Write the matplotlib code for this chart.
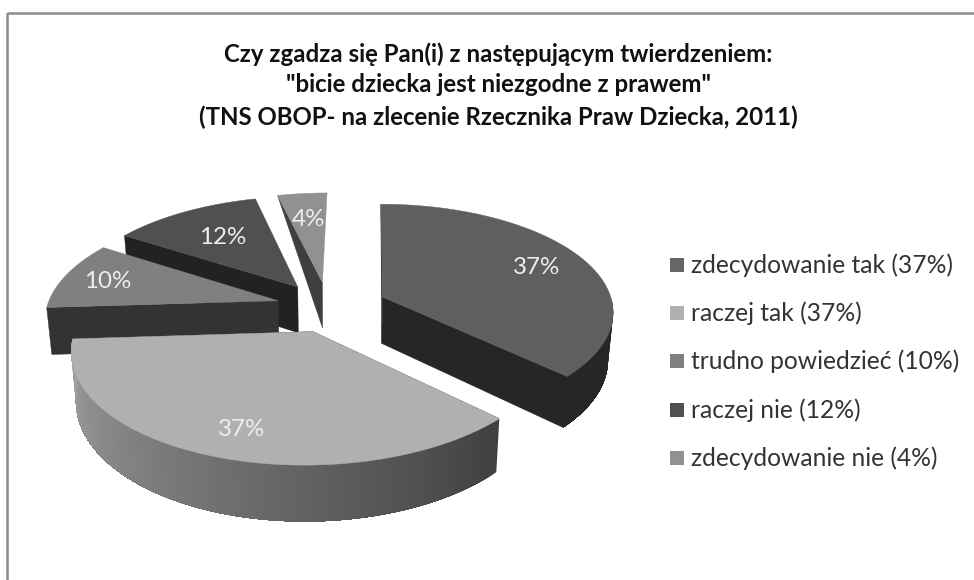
import numpy as np
import matplotlib
matplotlib.use("Agg")
import matplotlib.pyplot as plt
from matplotlib.patches import Rectangle

# --- data ---
categories = ["zdecydowanie tak", "raczej tak", "trudno powiedzieć", "raczej nie", "zdecydowanie nie"]
values = [37, 37, 10, 12, 4]
title_lines = ["Czy zgadza się Pan(i) z następującym twierdzeniem:",
               "\"bicie dziecka jest niezgodne z prawem\"",
               "(TNS OBOP- na zlecenie Rzecznika Praw Dziecka, 2011)"]

# --- style ---
top_colors = ["#5f5f5f", "#b0b0b0", "#808080", "#505050", "#919191"]
side_colors = ["#262626", "#404040", "#333333", "#222222", "#3f3f3f"]
legend_colors = ["#666666", "#b0b0b0", "#808080", "#505050", "#919191"]
label_xy = [(537, 267), (242, 430), (108, 282), (223, 237), (308, 219)]
draw_order = [4, 3, 2, 0, 1]
x_nudge = [0, 0, -3, -5, -5]
start_quad = [False, False, True, True, False]
end_quad = [True, True, False, False, False]

# --- projection of the exploded pie into picture pixels ---
CX, CY, RX, RY, K, SHEAR, EXPLODE, DEPTH, TAPER = 333, 307, 231, 108, 0.136, 0.02, 0.235, 47, 0.018


def project(X, Y, nudge=0, down=False):
    d = 1 + K * Y
    x = (X + SHEAR * Y) * RX / d
    y = CY - RY * Y / d
    if down:
        x *= 1 - TAPER
        y += DEPTH / d
    return CX + x + nudge, y


fig = plt.figure(figsize=(9.74, 5.8), dpi=100, facecolor="white")
ax = fig.add_axes([0, 0, 1, 1])
ax.set_xlim(0, 974)
ax.set_ylim(580, 0)
ax.axis("off")

# chart frame
ax.add_patch(Rectangle((7, 12.5), 1000, 700, fill=False, edgecolor="#8c8c8c", lw=1.8))

fractions = np.array(values, dtype=float) / sum(values)
edges = np.concatenate([[0], np.cumsum(fractions)]) * 2 * np.pi

for i in draw_order:
    a0, a1 = edges[i], edges[i + 1]
    mid = (a0 + a1) / 2
    ox, oy = EXPLODE * np.sin(mid), EXPLODE * np.cos(mid)
    n = x_nudge[i]
    th = np.linspace(a0, a1, 120)
    Xa, Ya = ox + np.sin(th), oy + np.cos(th)

    ap_x, ap_y = project(ox, oy, n)
    ab_x, ab_y = project(ox, oy, n, True)

    # cut face at the slice's start edge
    sx0, sy0 = project(Xa[0], Ya[0], n)
    sbx, sby = project(Xa[0], Ya[0], n, True)
    if start_quad[i]:
        ax.fill([sx0, ap_x, ab_x, sbx], [sy0, ap_y, ab_y, sby], color=side_colors[i], lw=0.3)
    else:
        ax.fill([sx0, ap_x, ab_x], [sy0, ap_y, ab_y], color=side_colors[i], lw=0.3)

    # cut face at the slice's end edge
    if end_quad[i]:
        ex, ey = project(Xa[-1], Ya[-1], n)
        ebx, eby = project(Xa[-1], Ya[-1], n, True)
        ax.fill([ex, ap_x, ab_x, ebx], [ey, ap_y, ab_y, eby], color=side_colors[i], lw=0.3)

    # outer rim, front part only
    idx = np.where(np.cos(th) <= 0)[0]
    if i in (0, 1):
        for j in idx[:-1]:
            rest = idx[idx >= j]
            px, py = project(Xa[rest], Ya[rest], n)
            qx, qy = project(Xa[rest], Ya[rest], n, True)
            if i == 1:
                t = (th[j] - a0) / (a1 - a0)
                g = 0.25 + t * (0.64 - 0.25)
                col = (g, g, g)
            else:
                col = side_colors[i]
            ax.fill(np.concatenate([px, qx[::-1]]), np.concatenate([py, qy[::-1]]), color=col, lw=0)

    # top face
    fx, fy = project(np.concatenate([[ox], Xa]), np.concatenate([[oy], Ya]), n)
    ax.fill(fx, fy, color=top_colors[i], lw=0.3)

    ax.text(label_xy[i][0], label_xy[i][1], f"{values[i]}%", color="#eeeeee",
            fontsize=17.4, family="Lato", ha="center", va="center")

# title
for line, y in zip(title_lines, [54, 85, 117]):
    ax.text(498, y, line, fontsize=17.3, family="Lato", weight="bold", color="#111111",
            ha="center", va="center")

# legend
for name, val, col, y in zip(categories, values, legend_colors, [265, 313, 361, 410, 458]):
    ax.add_patch(Rectangle((670, y - 7), 13.5, 13.5, facecolor=col, edgecolor="none"))
    ax.text(691, y, f"{name} ({val}%)", fontsize=17.7, family="Lato", color="#333333",
            ha="left", va="center")

fig.savefig("out.png", dpi=100)
